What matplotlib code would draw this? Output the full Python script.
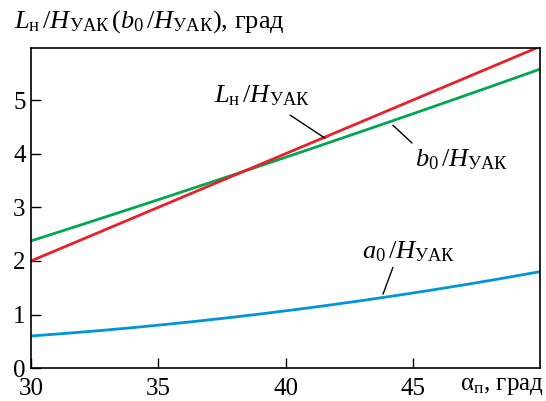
import matplotlib
matplotlib.use("Agg")
import matplotlib.pyplot as plt
import numpy as np

plt.rcParams['font.family'] = ['Liberation Serif', 'DejaVu Serif']
plt.rcParams['mathtext.fontset'] = 'custom'
plt.rcParams['mathtext.rm'] = 'Liberation Serif'
plt.rcParams['mathtext.it'] = 'Liberation Serif:italic'
plt.rcParams['mathtext.bf'] = 'Liberation Serif:bold'

alpha = [30, 35, 40, 45, 50]
L_H = [2.0, 3.0, 4.0, 5.0, 6.0]
b0_H = [2.38, 3.13, 3.93, 4.76, 5.57]
a0_H = [0.60, 0.80, 1.07, 1.40, 1.80]

xticks = [30, 35, 40, 45]
yticks = [0, 1, 2, 3, 4, 5]

fig = plt.figure(figsize=(5.46, 4.01), dpi=100)
ax = fig.add_axes([0.057, 0.082, 0.932, 0.798])

xs = np.linspace(30, 50, 200)
def smooth(x, y):
    c = np.polyfit(x, y, 2)
    return np.polyval(c, xs)

ax.plot(xs, smooth(alpha, b0_H), color='#00a651', lw=2.0)
ax.plot(xs, smooth(alpha, L_H), color='#e8202a', lw=2.0)
ax.plot(xs, smooth(alpha, a0_H), color='#0095da', lw=2.0)

ax.set_xlim(30, 50)
ax.set_ylim(0, 5.97)
ax.set_xticks(xticks)
ax.set_yticks(yticks)
ax.tick_params(direction='in', length=7, width=1, labelsize=18, pad=4)
ax.tick_params(axis='x', pad=7)
for s in ax.spines.values():
    s.set_linewidth(1.2)

lead = dict(arrowstyle='-', color='black', lw=1, shrinkA=0, shrinkB=0)
# leader lines
ax.annotate('', xy=(41.55, 4.29), xytext=(40.18, 4.72), arrowprops=lead)
ax.annotate('', xy=(44.22, 4.53), xytext=(44.97, 4.20), arrowprops=lead)
ax.annotate('', xy=(43.83, 1.38), xytext=(44.22, 1.88), arrowprops=lead)

# labels
ax.text(37.2, 5.09, r'$L_{\mathrm{н}}\,/H_{\mathrm{УАК}}$', fontsize=19, ha='left', va='center')
ax.text(45.1, 3.88, r'$b_0\,/H_{\mathrm{УАК}}$', fontsize=19, ha='left', va='center')
ax.text(43.0, 2.17, r'$a_0\,/H_{\mathrm{УАК}}$', fontsize=19, ha='left', va='center')

fig.text(0.025, 0.945, r'$L_{\mathrm{н}}\,/H_{\mathrm{УАК}}\,(b_0\,/H_{\mathrm{УАК}})$, град',
         fontsize=19, ha='left', va='center')
fig.text(0.995, 0.01, r'$\mathrm{\alpha}_{\mathrm{п}}$, град', fontsize=18, ha='right', va='bottom')

fig.savefig('out.png', dpi=100)
